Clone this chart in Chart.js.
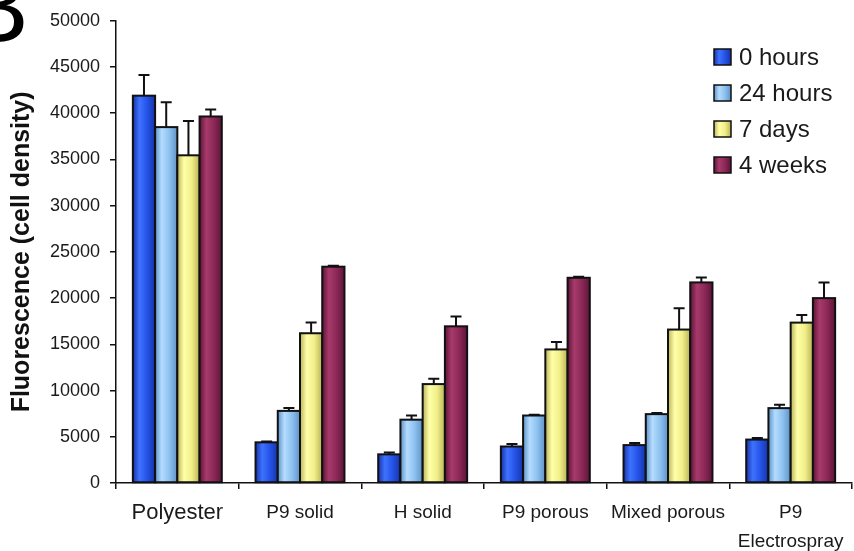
<!DOCTYPE html>
<html>
<head>
<meta charset="utf-8">
<script src="https://cdn.jsdelivr.net/npm/chart.js@4/dist/chart.umd.min.js"></script>
<style>
  html, body { margin: 0; padding: 0; background: #ffffff; }
  #wrap { width: 854px; height: 551px; position: relative; }
</style>
</head>
<body>
<div id="wrap"><canvas id="c" width="854" height="551"></canvas></div>
<script>
// Scaffold groups and time points
const categories = ['Polyester', 'P9 solid', 'H solid', 'P9 porous', 'Mixed porous', ['P9', 'Electrospray']];
const seriesNames = ['0 hours', '24 hours', '7 days', '4 weeks'];

// Mean fluorescence per group
const hours0  = [41900, 4400, 3100, 3950, 4100, 4700];
const hours24 = [38500, 7800, 6850, 7300, 7450, 8100];
const days7   = [35450, 16200, 10700, 14450, 16600, 17350];
const weeks4  = [39650, 23400, 16950, 22200, 21700, 20000];

// Upper error (standard deviation) per group
const err0  = [2250, 80, 200, 280, 220, 180];
const err24 = [2700, 300, 450, 80, 120, 360];
const err7  = [3700, 1150, 570, 800, 2300, 830];
const err4  = [750, 100, 1050, 100, 520, 1700];

// Value axis
const yMin = 0;
const yMax = 50000;
const yStep = 5000;

const FONT = "'Liberation Sans', Arial, sans-serif";

// Shading for each series: edge, highlight, body
const palette = [
  { edge: '#1633a8', light: '#3f72ff', body: '#2452e6' },
  { edge: '#5f93c8', light: '#b4dcff', body: '#8cc0ee' },
  { edge: '#b9b35a', light: '#ffffa8', body: '#f1ef88' },
  { edge: '#5c1438', light: '#a83a6c', body: '#8c2856' }
];

function barGradient(ctx, left, right, shade) {
  const g = ctx.createLinearGradient(left, 0, right, 0);
  g.addColorStop(0, shade.edge);
  g.addColorStop(0.3, shade.light);
  g.addColorStop(0.65, shade.body);
  g.addColorStop(1, shade.edge);
  return g;
}

// Cylinder-shaded bars with black outlines, then the upper error whiskers
const shadedBars = {
  id: 'shadedBars',
  afterDatasetsDraw(chart) {
    const ctx = chart.ctx;
    const yScale = chart.scales.y;
    ctx.save();
    chart.data.datasets.forEach((ds, di) => {
      const meta = chart.getDatasetMeta(di);
      meta.data.forEach((bar) => {
        const { x, y, base, width } = bar.getProps(['x', 'y', 'base', 'width'], true);
        const l = x - width / 2;
        ctx.fillStyle = barGradient(ctx, l, l + width, palette[di]);
        ctx.fillRect(l, y, width, base - y);
        ctx.lineWidth = 2;
        ctx.strokeStyle = '#111111';
        ctx.strokeRect(l, y, width, base - y);
      });
    });
    ctx.lineWidth = 2;
    ctx.strokeStyle = '#111111';
    chart.data.datasets.forEach((ds, di) => {
      const meta = chart.getDatasetMeta(di);
      meta.data.forEach((bar, i) => {
        const { x, y } = bar.getProps(['x', 'y'], true);
        const top = yScale.getPixelForValue(ds.data[i] + ds.errors[i]);
        ctx.beginPath();
        ctx.moveTo(x, y);
        ctx.lineTo(x, top);
        ctx.moveTo(x - 5.5, top);
        ctx.lineTo(x + 5.5, top);
        ctx.stroke();
      });
    });
    ctx.restore();
  }
};

// Legend in the upper right, and the panel letter
const panelExtras = {
  id: 'panelExtras',
  afterDraw(chart) {
    const ctx = chart.ctx;
    ctx.save();
    chart.data.datasets.forEach((ds, di) => {
      const cy = 57 + di * 36;
      const bx = 714, bw = 17, bh = 16;
      ctx.fillStyle = barGradient(ctx, bx, bx + bw, palette[di]);
      ctx.fillRect(bx, cy - bh / 2, bw, bh);
      ctx.lineWidth = 1.5;
      ctx.strokeStyle = '#111111';
      ctx.strokeRect(bx, cy - bh / 2, bw, bh);
      ctx.fillStyle = '#1a1a1a';
      ctx.font = '24px ' + FONT;
      ctx.textAlign = 'left';
      ctx.textBaseline = 'middle';
      ctx.fillText(ds.label, 739, cy + 1);
    });
    ctx.fillStyle = '#000000';
    ctx.font = '100px ' + FONT;
    ctx.textAlign = 'left';
    ctx.textBaseline = 'alphabetic';
    ctx.fillText('B', -38, 42);
    ctx.restore();
  }
};

const seriesValues = [hours0, hours24, days7, weeks4];
const seriesErrors = [err0, err24, err7, err4];

new Chart(document.getElementById('c'), {
  type: 'bar',
  data: {
    labels: categories,
    datasets: seriesNames.map((name, i) => ({
      label: name,
      data: seriesValues[i],
      errors: seriesErrors[i],
      backgroundColor: palette[i].body,
      borderColor: '#111111',
      borderWidth: 0
    }))
  },
  options: {
    responsive: false,
    animation: false,
    devicePixelRatio: 1,
    layout: { padding: { top: 16.5, right: 2, left: 0, bottom: 0 } },
    datasets: { bar: { categoryPercentage: 0.725, barPercentage: 1 } },
    plugins: {
      legend: { display: false },
      tooltip: { enabled: false }
    },
    scales: {
      x: {
        grid: { display: true, drawOnChartArea: false, offset: true, tickLength: 6, color: '#111111', lineWidth: 1.5 },
        border: { display: true, color: '#111111', width: 1.5 },
        ticks: {
          color: '#1a1a1a',
          padding: 10,
          maxRotation: 0,
          autoSkip: false,
          font: (c) => c.index === 0
            ? { family: FONT, size: 22, lineHeight: 1.25 }
            : { family: FONT, size: 19, lineHeight: 1.5 }
        },
        afterFit: (s) => { s.height = 68; }
      },
      y: {
        min: yMin,
        max: yMax,
        grid: { display: true, drawOnChartArea: false, tickLength: 6, color: '#111111', lineWidth: 1.5 },
        border: { display: true, color: '#111111', width: 1.5 },
        ticks: {
          stepSize: yStep,
          color: '#1a1a1a',
          padding: 10,
          font: { family: FONT, size: 18 },
          callback: (v) => String(v)
        },
        title: {
          display: true,
          text: 'Fluorescence (cell density)',
          color: '#111111',
          font: { family: FONT, size: 25, weight: 'bold' },
          padding: { top: 7, bottom: 0 }
        },
        afterFit: (s) => { s.width = 116; }
      }
    }
  },
  plugins: [shadedBars, panelExtras]
});
</script>
</body>
</html>
